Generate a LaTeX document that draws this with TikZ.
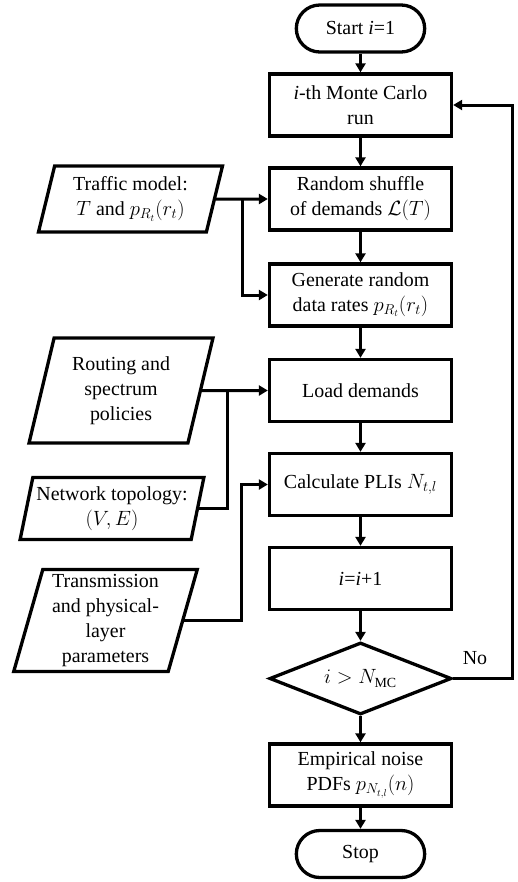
\documentclass[tikz,border=0pt]{standalone}
\usepackage{fontspec}
\setmainfont{Liberation Serif}
\usetikzlibrary{shapes.geometric,shapes.misc,arrows.meta}
\begin{document}
\begin{tikzpicture}[x=1bp,y=-1bp,
  every node/.style={font=\fontsize{20}{25}\selectfont},
  line/.style={line width=3bp},
  arr/.style={line width=3bp,-{Triangle[length=9bp,width=10bp]}},
  box/.style={draw,line width=3.3bp,rectangle,minimum width=182bp,minimum height=62bp,align=center,inner sep=2bp},
  term/.style={draw,line width=3.3bp,rounded rectangle,minimum width=135bp,minimum height=47bp},
  io/.style={draw,line width=3.3bp,trapezium,trapezium left angle=75,trapezium right angle=105,trapezium stretches=true,minimum width=184bp,align=center,inner sep=1bp},
  decision/.style={draw,line width=3.3bp,diamond,aspect=2.47,minimum width=182bp,minimum height=72bp,inner sep=0pt}
]
\useasboundingbox (0,0) rectangle (518,882);
% main column
\node[term] (start) at (360.5,28.5) {Start \textit{i}=1};
\node[box] (mc) at (360.5,105) {\textit{i}-th Monte Carlo\\run};
\node[box] (shuffle) at (360.5,199) {Random shuffle\\of demands $\mathcal{L}(T)$};
\node[box] (gen) at (360.5,295) {Generate random\\data rates $p_{R_t}(r_t)$};
\node[box] (load) at (360.5,390.5) {Load demands};
\node[box] (calc) at (360.5,484.5) {Calculate PLIs $N_{t,l}$};
\node[box] (inc) at (360.5,578.5) {\textit{i}=\textit{i}+1};
\node[decision] (dec) at (360.5,678.5) {$i > N_{\mathrm{MC}}$};
\node[box] (emp) at (360.5,775) {Empirical noise\\PDFs $p_{N_{t,l}}(n)$};
\node[term] (stop) at (360.5,854) {Stop};
% inputs
\node[io,minimum height=66bp] (traffic) at (130.5,199) {Traffic model:\\$T$ and $p_{R_t}(r_t)$};
\node[io,minimum height=105bp] (routing) at (121,390.5) {Routing and\\spectrum\\policies};
\node[io,minimum height=62bp] (network) at (112,508.5) {Network topology:\\$(V,E)$};
\node[io,minimum height=102bp] (trans) at (105.5,620.5) {Transmission\\and physical-\\layer\\parameters};
\node (no) at (475,658) {No};
% branch points
\coordinate (b1) at (242,199);
\coordinate (b2) at (227,390.5);
\coordinate (b3) at (241,550);
\coordinate (loopr) at (512,678.5);
% main flow
\draw[arr] (start.south) -- (mc.north);
\draw[arr] (mc.south) -- (shuffle.north);
\draw[arr] (shuffle.south) -- (gen.north);
\draw[arr] (gen.south) -- (load.north);
\draw[arr] (load.south) -- (calc.north);
\draw[arr] (calc.south) -- (inc.north);
\draw[arr] (inc.south) -- (dec.north);
\draw[arr] (dec.south) -- (emp.north);
\draw[arr] (emp.south) -- (stop.north);
\draw[arr] (dec.east) -- (loopr) |- (mc.east);
% inputs
\draw[arr] (traffic.east) -- (shuffle.west);
\draw[arr] (b1) |- (gen.west);
\draw[arr] (routing.east) -- (load.west);
\draw[line] (network.east) -| (b2);
\draw[arr] (trans.east) -| (b3) |- (calc.west);
\end{tikzpicture}
\end{document}
